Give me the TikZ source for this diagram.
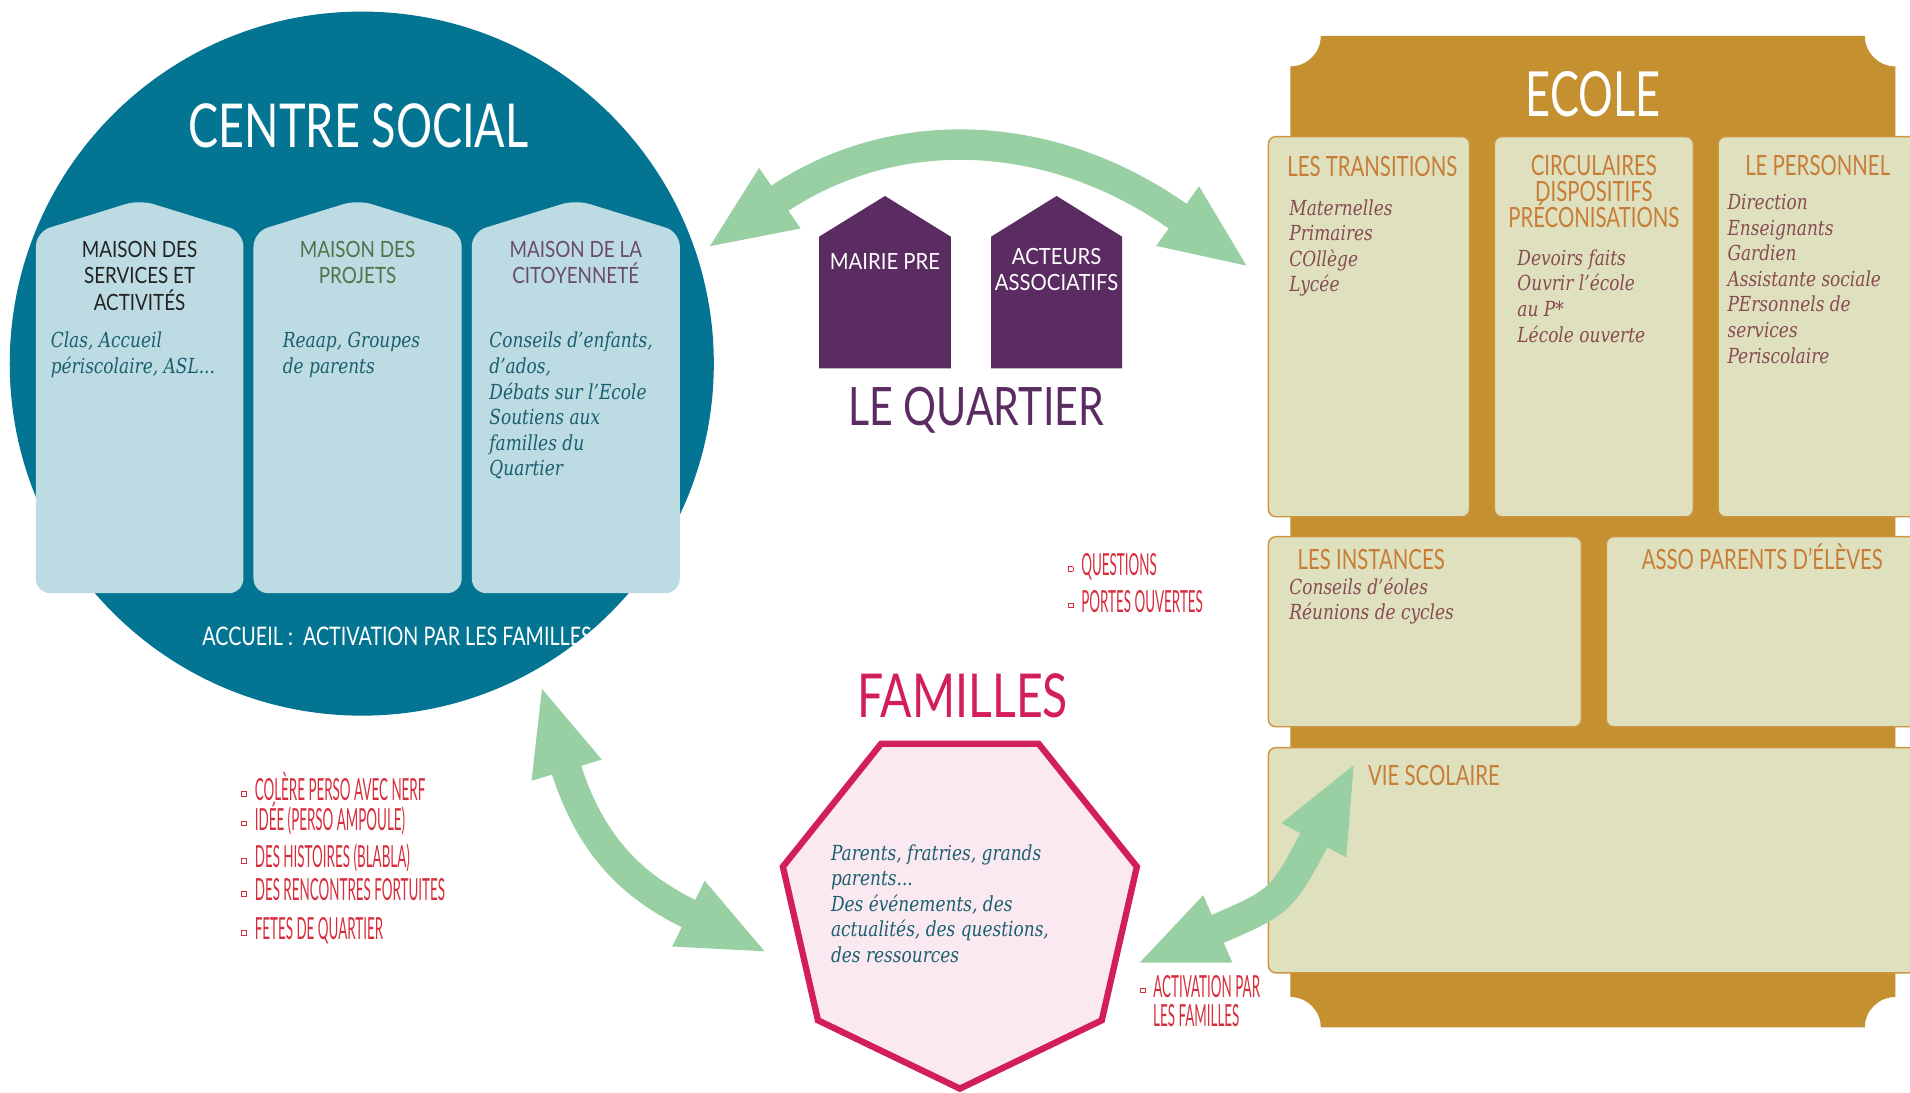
\documentclass[tikz,border=0pt]{standalone}
\usepackage{fontspec}
\usepackage{graphicx}
\usetikzlibrary{arrows.meta}
\setmainfont{Lato}
\newfontfamily\hT{Lato}
\newfontfamily\hB[FakeStretch=0.84]{Lato}
\newfontfamily\hC[FakeStretch=0.73]{Lato}
\newfontfamily\hD[FakeStretch=0.91]{Lato}
\newfontfamily\hE[FakeStretch=0.77]{Lato}
\newfontfamily\hand[FakeStretch=0.44]{Lato}
\newfontfamily\bodyf[FakeStretch=0.82]{DejaVu Serif}
\newcommand\fsz[2]{\fontsize{#1}{#2}\selectfont}
\newcommand\st[1]{\rule{0pt}{#1pt}}
\newcommand\bul{\raisebox{5.6pt}{\setlength\fboxsep{1.6pt}\setlength\fboxrule{0.6pt}\fbox{\rule{0pt}{0pt}}}\hspace{6.6pt}}
\definecolor{cteal}{RGB}{3,116,146}
\definecolor{chouse}{RGB}{188,219,226}
\definecolor{chA}{RGB}{35,35,35}
\definecolor{chB}{RGB}{85,112,75}
\definecolor{chC}{RGB}{108,76,108}
\definecolor{cbody}{RGB}{26,95,110}
\definecolor{cgreen}{RGB}{152,208,163}
\definecolor{cpurple}{RGB}{91,44,98}
\definecolor{cgold}{RGB}{196,144,48}
\definecolor{ctile}{RGB}{223,224,190}
\definecolor{ctileline}{RGB}{205,150,65}
\definecolor{ctitle}{RGB}{200,125,55}
\definecolor{citem}{RGB}{135,75,82}
\definecolor{ccrimson}{RGB}{210,30,90}
\definecolor{cpink}{RGB}{251,233,241}
\definecolor{cred}{RGB}{216,45,60}
\tikzset{
  houseshape/.style={fill=chouse, rounded corners=12pt},
  tilebox/.style={fill=ctile, draw=ctileline, line width=1.2pt, rounded corners=6pt},
  bigarrow/.style={draw=cgreen, line width=25pt, {Triangle[length=73pt,width=54pt]}-{Triangle[length=73pt,width=54pt]}},
  htitle/.style={anchor=north, inner sep=0, align=center, font=\hB\fsz{18.4}{21.6}},
  bodytxt/.style={anchor=north west, inner sep=0, align=left, font=\bodyf\itshape\fsz{17}{21}, text=cbody},
  titem/.style={bodytxt, text=citem},
  ttitle/.style={inner sep=0, align=center, font=\hC\fsz{22.9}{21.5}, text=ctitle},
  ptext/.style={anchor=north, inner sep=0, align=center, font=\hD\fsz{18.3}{21.3}, text=white},
  redl/.style={anchor=base west, inner sep=0, font=\hand\fsz{25}{27}, text=cred},
  bigt/.style={anchor=base west, inner sep=0},
}
\begin{document}
\begin{tikzpicture}[x=1pt, y=-1pt]
\clip (0,0) rectangle (1568,897);
\fill[white] (0,0) rectangle (1568,897);

% ---------------- CENTRE SOCIAL ----------------
\node[circle, fill=cteal, minimum size=578pt, inner sep=0] (cs) at (297,298.5) {};
\node[bigt, text=white] (cst) at (154.6,120.7) {\resizebox{279pt}{36pt}{\hT CENTRE SOCIAL}};

\fill[houseshape] (29.4,487) -- (29.4,190.4) -- (114.6,164) -- (199.8,190.4) -- (199.8,487) -- cycle;
\fill[houseshape] (208.1,487) -- (208.1,190.4) -- (293.5,164) -- (379,190.4) -- (379,487) -- cycle;
\fill[houseshape] (387.3,487) -- (387.3,190.4) -- (472.7,164) -- (558.1,190.4) -- (558.1,487) -- cycle;

\node[htitle, text=chA] (h1) at (114.6,195.3) {\st{16}MAISON DES\\SERVICES ET\\ACTIVITÉS};
\node[htitle, text=chB] (h2) at (293.5,195.3) {\st{16}MAISON DES\\PROJETS};
\node[htitle, text=chC] (h3) at (472.7,195.3) {\st{16}MAISON DE LA\\CITOYENNETÉ};

\node[bodytxt] (b1) at (41.5,271.4) {\st{14}Clas, Accueil\\périscolaire, ASL...};
\node[bodytxt] (b2) at (232,271.4) {\st{14}Reaap, Groupes\\de parents};
\node[bodytxt] (b3) at (401.6,271.4) {\st{14}Conseils d’enfants,\\d’ados,\\Débats sur l’Ecole\\Soutiens aux\\familles du\\Quartier};

\begin{scope}
\clip (297,298.5) circle (289pt);
\node[anchor=base west, inner sep=0, font=\hE\fsz{21}{24}, text=white] (acc) at (166,529.8) {ACCUEIL :\ \ ACTIVATION PAR LES FAMILLES};
\end{scope}

% ---------------- LE QUARTIER ----------------
\fill[cpurple] (672.4,302.4) -- (672.4,194.3) -- (726.5,160.9) -- (780.6,194.3) -- (780.6,302.4) -- cycle;
\fill[cpurple] (813.6,302.4) -- (813.6,194.3) -- (867.4,160.9) -- (921.2,194.3) -- (921.2,302.4) -- cycle;
\node[ptext] (mairie) at (726.5,206) {\st{15}MAIRIE PRE};
\node[ptext] (acteurs) at (867.4,202.2) {\st{15}ACTEURS\\ASSOCIATIFS};
\node[bigt, text=cpurple] (lq) at (696,348.9) {\resizebox{210pt}{31.5pt}{\hT LE QUARTIER}};

% ---------------- ECOLE ----------------
\fill[cgold] (1084.3,29.5) -- (1530.9,29.5)
  .. controls (1530.9,43.3) and (1542.1,54.5) .. (1555.9,54.5)
  -- (1555.9,818.5)
  .. controls (1542.1,818.5) and (1530.9,829.7) .. (1530.9,843.5)
  -- (1084.3,843.5)
  .. controls (1084.3,829.7) and (1073.1,818.5) .. (1059.3,818.5)
  -- (1059.3,54.5)
  .. controls (1073.1,54.5) and (1084.3,43.3) .. (1084.3,29.5) -- cycle;
\node[bigt, text=white] (ec) at (1252.3,95.8) {\resizebox{110.6pt}{37pt}{\hT ECOLE}};

\draw[tilebox] (1041.3,112.2) rectangle (1206.4,424.2);
\draw[tilebox] (1226.8,112.2) rectangle (1390.1,424.2);
\draw[tilebox] (1410.5,112.2) rectangle (1590,424.2);
\draw[tilebox] (1041.3,440.6) rectangle (1298.2,596.6);
\draw[tilebox] (1318.7,440.6) rectangle (1590,596.6);
\draw[tilebox] (1041.3,613.8) rectangle (1590,798.6);

\node[ttitle, anchor=north west] (t1) at (1056.6,122.5) {\st{22}LES TRANSITIONS};
\node[ttitle, anchor=north] (t2) at (1308.4,121.7) {\st{22}CIRCULAIRES\\DISPOSITIFS\\PRÉCONISATIONS};
\node[ttitle, anchor=north] (t3) at (1492.2,121.7) {\st{22}LE PERSONNEL};
\node[ttitle, anchor=north west] (t4) at (1065.1,445.4) {\st{22}LES INSTANCES};
\node[ttitle, anchor=north west] (t5) at (1347.6,445.4) {\st{22}ASSO PARENTS D’ÉLÈVES};
\node[ttitle, anchor=north west] (t6) at (1123,623) {\st{22}VIE SCOLAIRE};

\node[titem] (i1) at (1058.3,162.5) {\st{14}Maternelles\\Primaires\\COllège\\Lycée};
\node[titem] (i2) at (1245.5,203.6) {\st{14}Devoirs faits\\Ouvrir l’école\\au P*\\Lécole ouverte};
\node[titem] (i3) at (1418,157.9) {\st{14}Direction\\Enseignants\\Gardien\\Assistante sociale\\PErsonnels de\\services\\Periscolaire};
\node[titem] (i4) at (1058.3,473.7) {\st{14}Conseils d’éoles\\Réunions de cycles};

% ---------------- FAMILLES ----------------
\draw[ccrimson, line width=5.2pt, fill=cpink, line join=miter]
  (788,893.7) -- (904.5,837.6) -- (933.3,711.5) -- (852.6,610.5) -- (723.4,610.5) -- (642.7,711.5) -- (671.5,837.6) -- cycle;
\node[bodytxt] (ftxt) at (682,692) {\st{14}Parents, fratries, grands\\parents...\\Des événements, des\\actualités, des questions,\\des ressources};
\node[bigt, text=ccrimson] (fam) at (703.7,589) {\resizebox{172.8pt}{36pt}{\hT FAMILLES}};

% ---------------- red notes ----------------
\node[redl] (q1) at (876.5,472.6) {\bul QUESTIONS};
\node[redl] (q2) at (876.5,502.6) {\bul PORTES OUVERTES};
\node[redl] (l1) at (198,657.4) {\bul COLÈRE PERSO AVEC NERF};
\node[redl] (l2) at (198,681.5) {\bul IDÉE (PERSO AMPOULE)};
\node[redl] (l3) at (198,712.4) {\bul DES HISTOIRES (BLABLA)};
\node[redl] (l4) at (198,739.5) {\bul DES RENCONTRES FORTUITES};
\node[redl] (l5) at (198,771.2) {\bul FETES DE QUARTIER};
\node[redl] (a1) at (935.6,818.5) {\bul ACTIVATION PAR};
\node[redl] (a2) at (946.5,842.5) {LES FAMILLES};

% ---------------- green arrows ----------------
\coordinate (tl) at (580,204);
\coordinate (tr) at (1026,220);
\coordinate (ll1) at (444,562.4);
\coordinate (ll2) at (630.6,782.4);
\coordinate (lr1) at (932.7,791.5);
\coordinate (lr2) at (1112.8,625.3);
\draw[bigarrow] (tl) .. controls (732.6,99.3) and (862.8,102.7) .. (tr);
\draw[bigarrow] (ll1) .. controls (487.5,706) and (532,733.6) .. (ll2);
\draw[bigarrow] (lr1) .. controls (1052,740) and (1052,740) .. (lr2);
\end{tikzpicture}
\end{document}
